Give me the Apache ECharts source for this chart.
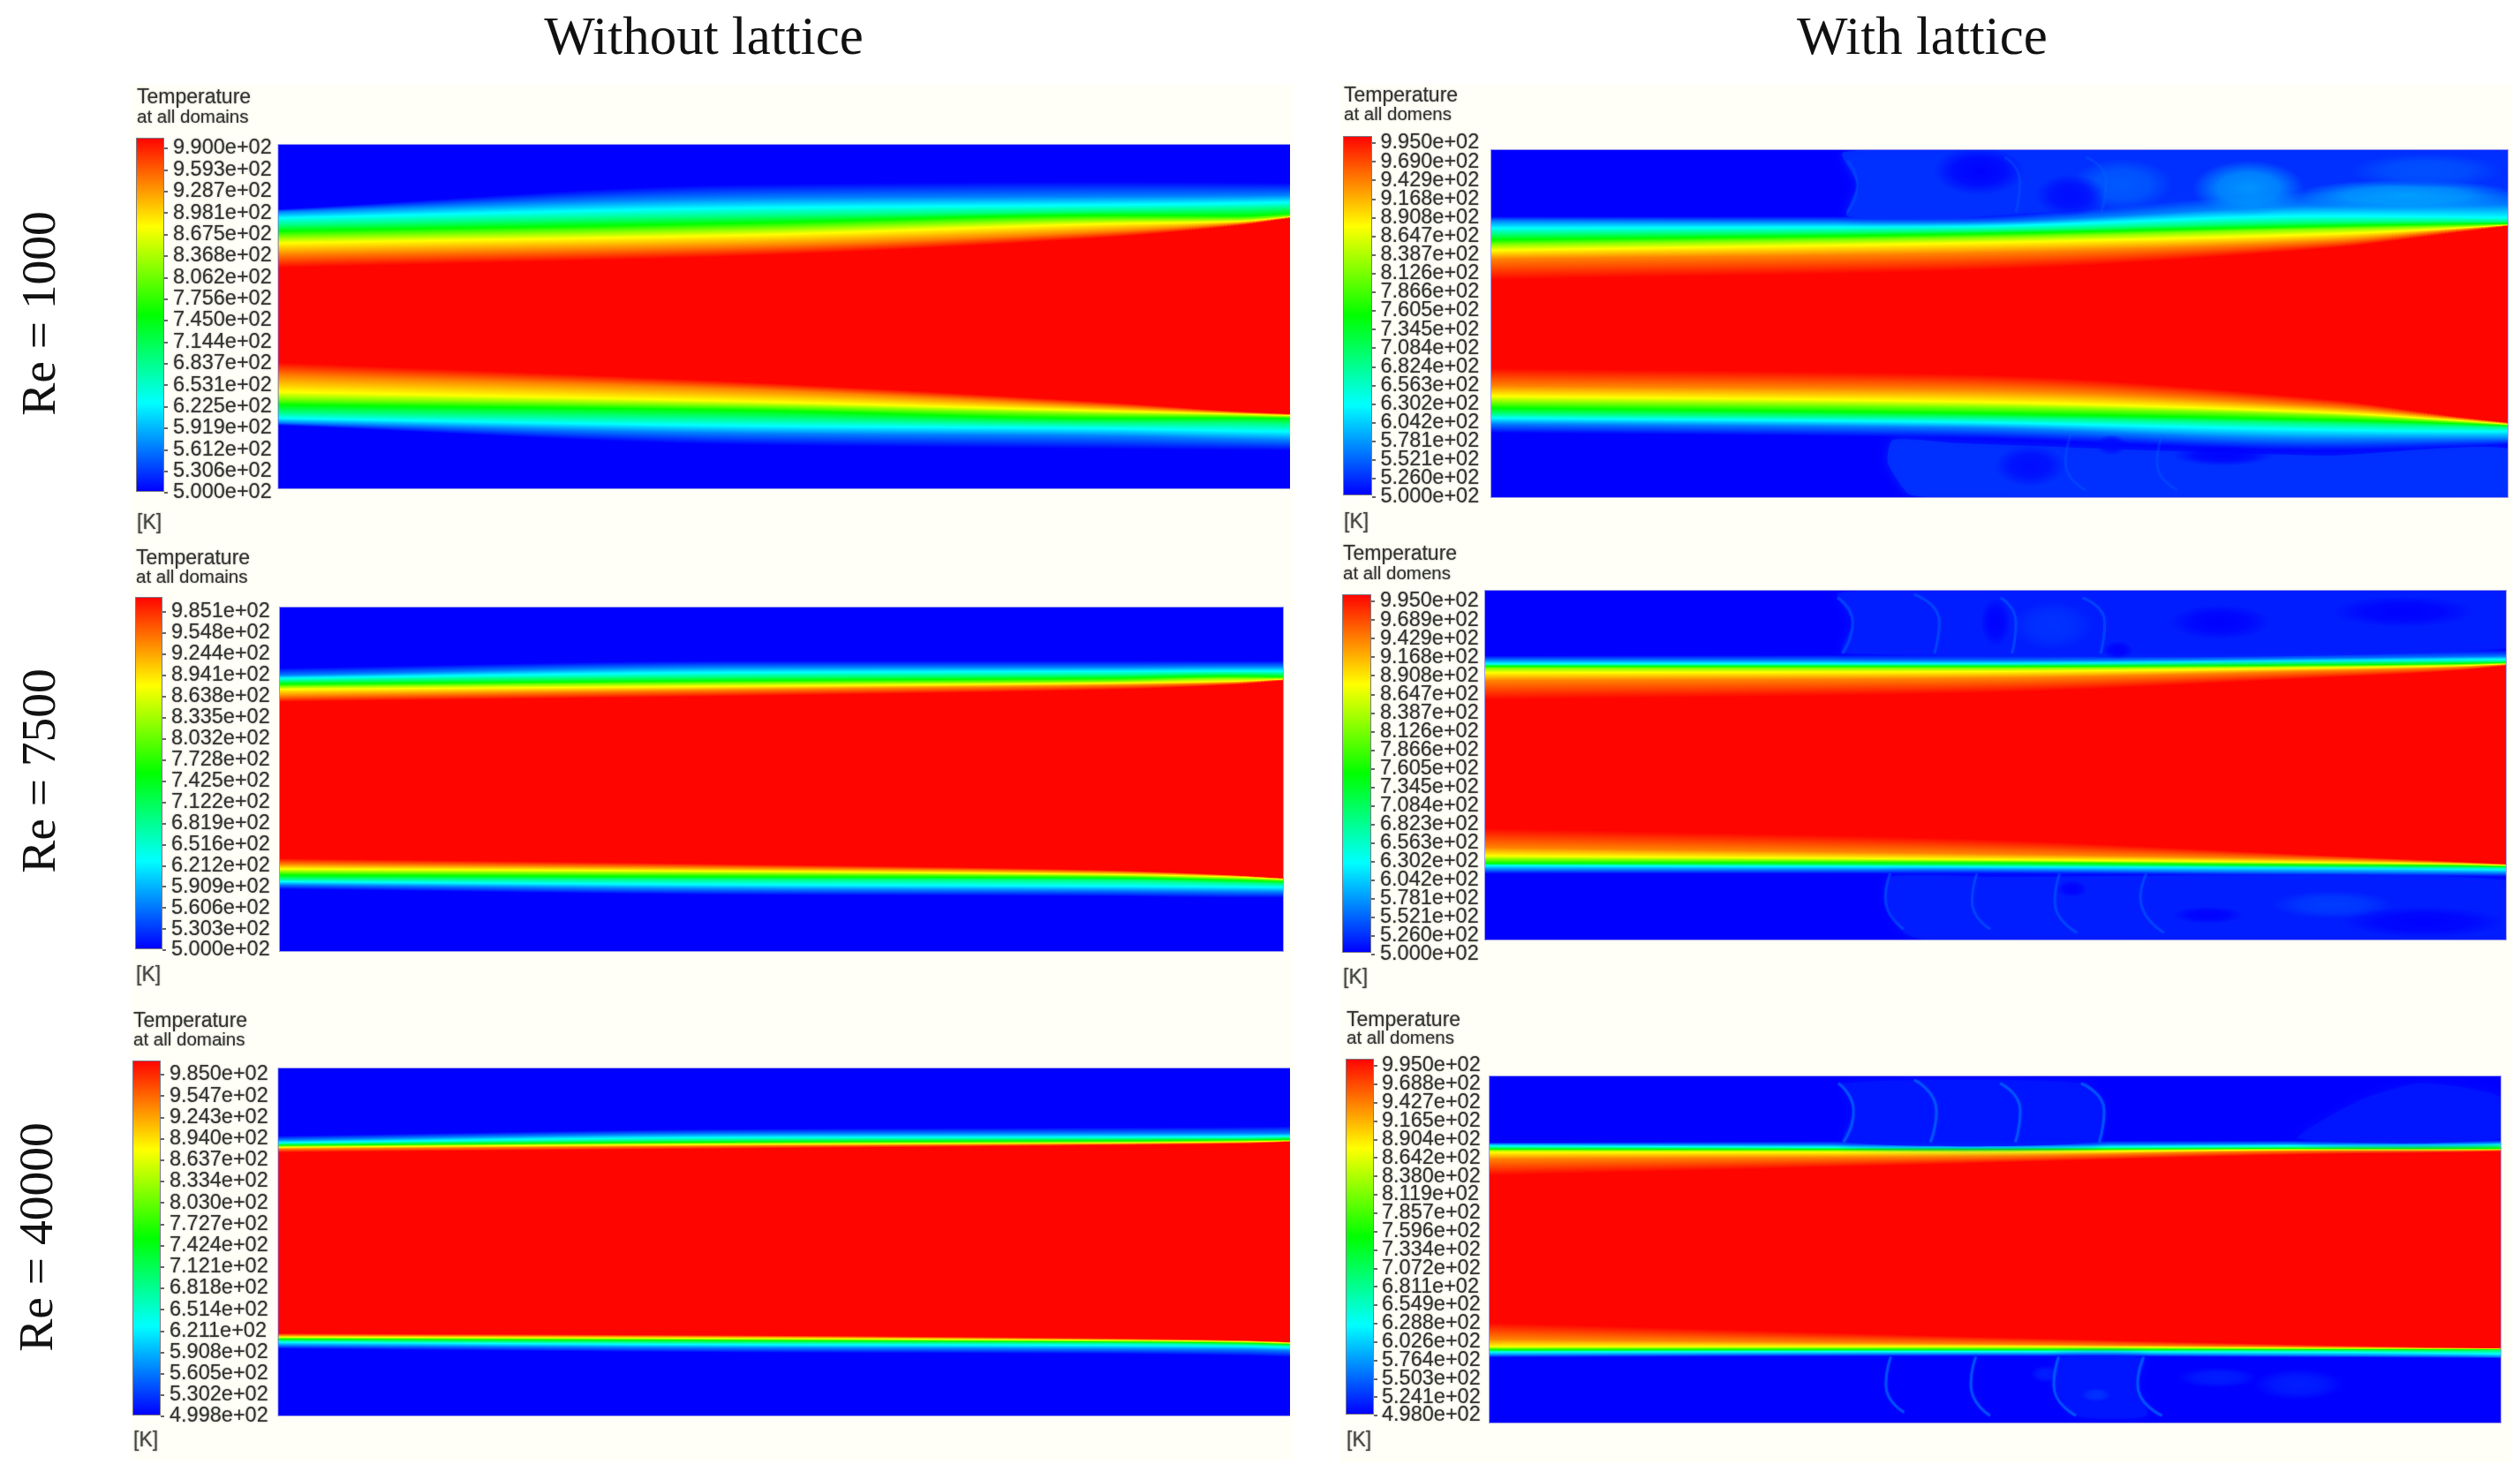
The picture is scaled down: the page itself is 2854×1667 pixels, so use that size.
<!DOCTYPE html>
<html><head><meta charset="utf-8">
<style>html,body{margin:0;padding:0;background:#fff}#c{width:2854px;height:1667px}</style>
<script src="https://cdn.jsdelivr.net/npm/echarts@6/dist/echarts.min.js"></script>
</head><body><div id="c"></div>
<script>
// ---------- text ----------
const columnTitles = ['Without lattice', 'With lattice'];
const rowTitles = ['Re = 1000', 'Re = 7500', 'Re = 40000'];

// ---------- colour bar tick labels (top to bottom) ----------
const ticksA = ['9.900e+02','9.593e+02','9.287e+02','8.981e+02','8.675e+02','8.368e+02','8.062e+02','7.756e+02','7.450e+02','7.144e+02','6.837e+02','6.531e+02','6.225e+02','5.919e+02','5.612e+02','5.306e+02','5.000e+02'];
const ticksB = ['9.950e+02','9.690e+02','9.429e+02','9.168e+02','8.908e+02','8.647e+02','8.387e+02','8.126e+02','7.866e+02','7.605e+02','7.345e+02','7.084e+02','6.824e+02','6.563e+02','6.302e+02','6.042e+02','5.781e+02','5.521e+02','5.260e+02','5.000e+02'];
const ticksC = ['9.851e+02','9.548e+02','9.244e+02','8.941e+02','8.638e+02','8.335e+02','8.032e+02','7.728e+02','7.425e+02','7.122e+02','6.819e+02','6.516e+02','6.212e+02','5.909e+02','5.606e+02','5.303e+02','5.000e+02'];
const ticksD = ['9.950e+02','9.689e+02','9.429e+02','9.168e+02','8.908e+02','8.647e+02','8.387e+02','8.126e+02','7.866e+02','7.605e+02','7.345e+02','7.084e+02','6.823e+02','6.563e+02','6.302e+02','6.042e+02','5.781e+02','5.521e+02','5.260e+02','5.000e+02'];
const ticksE = ['9.850e+02','9.547e+02','9.243e+02','8.940e+02','8.637e+02','8.334e+02','8.030e+02','7.727e+02','7.424e+02','7.121e+02','6.818e+02','6.514e+02','6.211e+02','5.908e+02','5.605e+02','5.302e+02','4.998e+02'];
const ticksF = ['9.950e+02','9.688e+02','9.427e+02','9.165e+02','8.904e+02','8.642e+02','8.380e+02','8.119e+02','7.857e+02','7.596e+02','7.334e+02','7.072e+02','6.811e+02','6.549e+02','6.288e+02','6.026e+02','5.764e+02','5.503e+02','5.241e+02','4.980e+02'];

// ---------- isotherms ----------
// x = fraction of the channel length; y = % of channel height from its top.
const stations = [0, 0.46, 0.82, 0.95, 1];
// colormap fraction of each isotherm column
const coldToHot = [0, 0.125, 0.25, 0.375, 0.5, 0.625, 0.75, 0.875, 1];
// upper shear layer: each row is a station, columns go cold -> hot
const upperA = [[18.7,19.5,21.3,23.4,25.1,26.8,28.6,32,35.8],[11.5,15.5,18.4,20.8,22.8,24.5,26.3,29.5,32.4],[10.7,15,17.5,19.3,20.5,21.8,23,25.3,27],[10.9,14.8,17,18.8,20.7,21.6,22.3,22.9,23.5],[11.1,14.6,16.7,18.4,20.1,20.7,21,21.2,21.4]];
const upperB = [[19.1,20.4,22.5,24.2,25.9,27.2,28.9,31.4,37.4],[19,20.7,22,23.3,24.2,25.3,26.8,29.8,34.8],[8,16,19,20.8,21.9,22.7,24.2,26.3,28.4],[8,15.8,19.3,20.6,21.3,21.9,22.5,23,23.8],[8.5,15.8,19.5,20.6,21.2,21.4,21.6,21.7,21.9]];
const upperC = [[17.6,19.7,20.6,21.4,22.3,23,23.8,25.8,27.5],[15.5,17.4,18.9,20.2,21.3,22,22.9,24,25.8],[15.5,17.4,18.6,19.7,20.6,21.5,22,22.7,24],[15.5,17.2,18.5,19.2,20,20.6,21.5,21.9,22.5],[15.5,17.2,18.5,19.3,20.2,20.6,20.9,21,21.3]];
const upperD = [[18.6,19.9,21,21.3,21.7,22.2,23.5,25.8,31.3],[18.3,20,20.9,21.3,21.7,22.2,23.2,25.2,29.5],[17.3,19.2,20,20.7,21.3,21.6,22.1,23,25],[17,18.9,19.7,20.4,20.9,21.2,21.5,22,23],[17,18.8,19.6,20.3,20.6,20.8,21,21.2,21.5]];
const upperE = [[19.4,20.6,21.4,21.8,22.2,22.4,22.7,23.2,24.2],[17.4,18.8,19.9,20.6,21.2,21.5,21.9,22.3,23.1],[17,18.7,19.8,20.3,20.8,21.2,21.5,21.7,22.2],[16.8,18.7,19.7,20.2,20.6,20.9,21.1,21.4,21.7],[16.6,18.7,19.5,20,20.5,20.7,20.9,21,21.2]];
const upperF = [[19.1,19.5,20.1,20.6,21,21.3,21.9,23.9,28.7],[18.6,19.8,20.5,20.8,21.1,21.4,21.9,23.2,25.3],[18.5,19.4,20,20.5,20.8,21,21.2,21.5,22.5],[18.4,19.2,19.8,20.3,20.8,21,21.2,21.4,22],[18.3,19.1,19.6,20.1,20.8,21,21.2,21.3,21.7]];
// lower shear layer: each row is a station, columns go hot -> cold
const lowerA = [[63.3,67.2,71.9,74,75.7,77.9,79.6,80.9,81.7],[69,71.2,74.7,76,77.3,79.5,81.8,84,87.4],[74.9,76.2,77.5,78.4,79.6,81,82.6,84.8,88.6],[77.6,78,78.4,78.9,79.5,81,83.3,85.7,88.9],[78.3,78.5,78.8,79.2,79.6,81.3,83.5,86,89]];
const lowerB = [[62.8,67.9,70.9,72.6,74.3,76,77.2,78.9,81.5],[64.5,69,72.5,74,75.8,77,78.4,80,83],[71.7,73.9,75.6,76.4,77.7,78.8,80.6,83.2,86.6],[76.8,77.3,77.9,78.3,78.8,79.5,81,83.2,85.5],[78.5,78.7,79,79.2,79.4,79.9,81,83.2,84.9]];
const lowerC = [[73,74.7,76.1,77,77.9,79,79.8,80.7,82],[74.7,75.8,76.8,77.5,78.4,79.2,80.7,82,83.7],[76.4,77,77.7,78.1,78.7,79.4,81.1,82.4,84.1],[77.9,78.1,78.4,78.9,79.4,80.1,81.3,82.7,84.5],[78.8,78.9,79.1,79.4,79.8,80.4,81.5,82.8,84.5]];
const lowerD = [[68.1,73.6,76,77,78.1,78.5,78.8,79.9,81.2],[71,75.3,77,77.5,78,78.7,79.1,80,81.2],[75.8,77,77.9,78.3,78.7,79.1,79.6,80.9,81.7],[77.6,78,78.3,78.6,78.9,79.3,79.9,81,81.9],[78.3,78.5,78.7,78.9,79.1,79.4,80,81,82]];
const lowerE = [[76.3,76.9,77.4,77.7,78,78.4,78.9,79.8,80.8],[76.9,77.3,77.8,78.1,78.4,78.9,79.6,80.5,81.9],[77.7,78.1,78.3,78.6,78.8,79.1,79.8,80.8,82.3],[78.3,78.5,78.7,78.9,79.1,79.5,80,81,82.8],[78.8,78.9,79.1,79.3,79.5,79.8,80.4,81.3,83.2]];
const lowerF = [[71.1,75.9,78.1,78.5,79,79.3,79.6,80.5,81.2],[75,77.2,78,78.5,78.9,79.2,79.5,80.2,80.9],[77.6,78.2,78.5,78.7,78.9,79.2,79.7,80.6,81.2],[78.3,78.5,78.6,78.8,78.9,79.3,80,80.8,81.4],[78.5,78.6,78.7,78.8,78.9,79.2,80.2,81,81.5]];

// ---------- lattice wakes (only "with lattice" panels) ----------
// warmed regions of the cold stream: colormap fraction and outline [x fraction, y %]
const wakeTemp = {B:0.05, D:0.03, F:0.022};
const wakesB = [[[0.345,1],[0.36,10],[0.35,19],[0.46,19.5],[0.82,12],[1,12],[1,0],[0.37,0]],[[0.395,83.5],[0.39,90],[0.41,99],[0.43,100],[1,100],[1,86],[0.82,88],[0.46,84.5]]];
const wakesD = [[[0.345,1],[0.36,9],[0.35,18],[1,16.5],[1,0],[0.37,0]],[[0.397,82],[0.392,89],[0.41,98],[0.43,100],[1,100],[1,83],[0.5,82]]];
const wakesF = [[[0.35,2],[0.36,10],[0.35,19],[0.6,19],[0.608,10],[0.59,2]],[[0.8,18],[0.86,7],[0.92,2],[1,6],[1,18]],[[0.563,81.5],[0.558,89],[0.58,98],[0.65,98],[0.641,89],[0.647,81.5]]];
// soft patches: [x fraction, y %, x extent, y extent, colormap fraction]
const patchesB = [[0.745,11,0.11,16,0.15],[0.62,10,0.1,15,0.09],[0.9,13,0.22,9,0.16],[0.92,6,0.15,10,0.08],[0.48,6,0.09,14,0],[0.57,13,0.07,12,0.01],[0.72,88,0.1,6,0],[0.61,85,0.03,6,0.01],[0.53,91,0.07,12,0.01]];
const patchesD = [[0.556,10,0.08,14,0.05],[0.62,17,0.03,5,0],[0.5,9,0.03,14,0],[0.72,9,0.1,10,0],[0.9,6,0.14,9,0],[0.83,90,0.12,8,0.06],[0.708,93,0.07,5,0],[0.575,85.5,0.03,5,0],[0.92,95,0.16,9,0]];
const patchesF = [[0.72,87,0.08,6,0.03],[0.8,89,0.09,9,0.03],[0.6,92,0.03,4,0.05],[0.55,86,0.03,5,0.03]];
// thin wake arcs: lists of [x fraction, y %]
const arcsB = [[[0.35,18],[0.36,10],[0.35,3]],[[0.516,18],[0.52,9],[0.505,2]],[[0.6,18],[0.605,9],[0.585,2]],[[0.57,82],[0.565,90],[0.585,98]],[[0.66,82],[0.655,90],[0.675,98]]];
const arcsD = [[[0.35,18],[0.36,9],[0.345,2]],[[0.44,18],[0.445,9],[0.42,1]],[[0.516,18],[0.52,9],[0.505,2]],[[0.603,18],[0.607,9],[0.585,2]],[[0.397,81],[0.392,88],[0.41,97]],[[0.482,81],[0.477,89],[0.495,97]],[[0.563,81],[0.558,89],[0.58,98]],[[0.648,81],[0.642,88],[0.665,98]]];
const arcsF = [[[0.35,19],[0.36,10],[0.345,2]],[[0.436,19],[0.442,10],[0.42,1]],[[0.52,19],[0.525,10],[0.505,2]],[[0.603,19],[0.608,10],[0.585,2]],[[0.397,81],[0.392,89],[0.41,97]],[[0.481,81],[0.476,89],[0.495,98]],[[0.563,81],[0.558,89],[0.58,98]],[[0.647,81],[0.641,89],[0.665,98]]];

// ---------- layout (px), separate from the data ----------
const panels = [
 {upper:upperA,lower:lowerA,ticks:ticksA,unitsY:[157,556],tickY:[168,558],barX:[155,185],labelX:197,field:[315.5,1460,164,553],head:[155,111,133],domain:'at all domains',k:593},
 {upper:upperB,lower:lowerB,ticks:ticksB,unitsY:[155,560],tickY:[162,563],barX:[1522,1553],labelX:1564.5,field:[1689,2840,170,563],head:[1522,109,130],domain:'at all domens',k:592,wakes:wakesB,wakeT:wakeTemp.B,patches:patchesB,arcs:arcsB,arcA:0.25},
 {upper:upperC,lower:lowerC,ticks:ticksC,unitsY:[677,1074],tickY:[693,1076],barX:[154,183],labelX:195,field:[317,1453,688,1077],head:[154,633,654],domain:'at all domains',k:1105},
 {upper:upperD,lower:lowerD,ticks:ticksD,unitsY:[674,1078],tickY:[681,1081],barX:[1521,1552],labelX:1564,field:[1682,2838,669,1064],head:[1521,628,650],domain:'at all domens',k:1108,wakes:wakesD,wakeT:wakeTemp.D,patches:patchesD,arcs:arcsD,arcA:0.4},
 {upper:upperE,lower:lowerE,ticks:ticksE,unitsY:[1202,1602],tickY:[1217,1604],barX:[151,181],labelX:193,field:[315.5,1460,1210,1603],head:[151,1157,1178],domain:'at all domains',k:1632},
 {upper:upperF,lower:lowerF,ticks:ticksF,unitsY:[1200,1601],tickY:[1207,1603],barX:[1525,1555],labelX:1566,field:[1687,2832,1219,1611],head:[1525,1156,1176],domain:'at all domens',k:1632,wakes:wakesF,wakeT:wakeTemp.F,patches:patchesF,arcs:arcsF,arcA:0.6}
];

function jet(f, a) {
  const keys = [[0,0,255],[0,255,255],[0,255,0],[255,255,0],[255,5,0]];
  const p = Math.max(0, Math.min(0.9999, f)) * 4, i = Math.floor(p), t = p - i;
  const c = keys[i].map((v, k) => Math.round(v + (keys[i + 1][k] - v) * t));
  return a === undefined ? `rgb(${c})` : `rgba(${c},${a})`;
}

// monotone tangents for shading between the read stations
function tangents(col) {
  const n = col.length, d = [], m = [];
  for (let i = 0; i < n - 1; i++) d.push((col[i+1] - col[i]) / (stations[i+1] - stations[i]));
  m[0] = d[0]; m[n-1] = d[n-2];
  for (let i = 1; i < n - 1; i++) m[i] = d[i-1] * d[i] <= 0 ? 0 : 2 * d[i-1] * d[i] / (d[i-1] + d[i]);
  return m;
}

const grid = [], xAxis = [], yAxis = [], series = [], graphic = [];
const sans = 'Liberation Sans', serif = 'Liberation Serif';

graphic.push({type:'rect',z:-5,silent:true,shape:{x:148,y:95,width:1317,height:1559},style:{fill:'#fffff7'}});
graphic.push({type:'rect',z:-5,silent:true,shape:{x:1518,y:95,width:1326,height:1561},style:{fill:'#fffff7'}});

function addGrid(g, x, y) {
  grid.push(g);
  xAxis.push(Object.assign({gridIndex:grid.length-1}, x));
  yAxis.push(Object.assign({gridIndex:grid.length-1}, y));
  return grid.length - 1;
}

panels.forEach(p => {
  const [l, r, t, b] = p.field;
  const fi = addGrid(
    {left:l, top:t, width:r-l, height:b-t, show:true, backgroundColor:'#0000ff', borderColor:'rgba(70,70,225,0.55)', borderWidth:2},
    {type:'value', min:0, max:1, show:false},
    {type:'value', min:0, max:100, inverse:true, show:false});
  const base = {type:'custom', xAxisIndex:fi, yAxisIndex:fi, clip:true, silent:true, animation:false};

  // temperature field: the data are the read stations; between two stations the
  // canvas gradient shades each column from the isotherms
  const rows = stations.map((x, s) => [x].concat(p.upper[s], p.lower[s]));
  const nCols = rows[0].length - 1;
  const cols = [];
  for (let c = 0; c < nCols; c++) cols.push(rows.map(row => row[c + 1]));
  const tans = cols.map(tangents);
  const colours = coldToHot.map(f => jet(f)).concat(coldToHot.slice().reverse().map(f => jet(f)));
  series.push(Object.assign({}, base, {
    name:'temperature field', data:rows, encode:{x:0, y:1},
    renderItem(params, api) {
      const i = params.dataIndex;
      if (i >= rows.length - 1) return {type:'group', children:[]};
      const x0 = rows[i][0], x1 = rows[i+1][0], h = x1 - x0;
      const pa = api.coord([x0, 0]), pb = api.coord([x1, 100]);
      const step = 4, children = [];
      for (let px = pa[0]; px < pb[0]; px += step) {
        const u = (px + step / 2 - pa[0]) / (pb[0] - pa[0]);
        const h00 = (1 + 2*u)*(1-u)*(1-u), h10 = u*(1-u)*(1-u), h01 = u*u*(3-2*u), h11 = u*u*(u-1);
        let last = 0;
        const colorStops = cols.map((c, k) => {
          const v = h00*c[i] + h10*h*tans[k][i] + h01*c[i+1] + h11*h*tans[k][i+1];
          const o = (api.coord([x0, v])[1] - pa[1]) / (pb[1] - pa[1]);
          last = Math.max(last, Math.min(1, o));
          return {offset:last, color:colours[k]};
        });
        children.push({type:'rect', shape:{x:px, y:pa[1], width:step + 1, height:pb[1] - pa[1]},
          style:{fill:{type:'linear', x:0, y:0, x2:0, y2:1, colorStops}}});
      }
      return {type:'group', children};
    }
  }));

  if (p.wakes) {
    p.wakes.forEach((w, n) => series.push(Object.assign({}, base, {
      name:'wake ' + n, data:w, encode:{x:0, y:1},
      renderItem(params, api) {
        if (params.dataIndex) return {type:'group', children:[]};
        const col = jet(p.wakeT, 0.85);
        return {type:'polygon', shape:{points:w.map(q => api.coord(q)), smooth:0.2},
          style:{fill:col, shadowBlur:12, shadowColor:col}};
      }
    })));
    series.push(Object.assign({}, base, {
      name:'wake patches', data:p.patches, encode:{x:0, y:1},
      renderItem(params, api) {
        const c = api.coord([api.value(0), api.value(1)]);
        const s = api.size([api.value(2), api.value(3)]);
        const f = api.value(4), R = 100;
        return {type:'circle', x:c[0], y:c[1], scaleX:s[0] / 2 / R, scaleY:s[1] / 2 / R, shape:{cx:0, cy:0, r:R},
          style:{fill:{type:'radial', x:0.5, y:0.5, r:0.5, colorStops:[
            {offset:0, color:jet(f, 0.95)}, {offset:0.55, color:jet(f, 0.75)}, {offset:1, color:jet(f, 0)}]}}};
      }
    }));
    p.arcs.forEach((a, n) => {
      const col = `rgba(0,110,255,${p.arcA})`;
      series.push({name:'wake arc ' + n, type:'line', xAxisIndex:fi, yAxisIndex:fi, data:a, smooth:0.6, showSymbol:false, silent:true,
        animation:false, lineStyle:{width:3, color:col, shadowBlur:3, shadowColor:col}});
    });
  }

  // colour bar
  const n = p.ticks.length;
  const tmax = parseFloat(p.ticks[0]), tmin = parseFloat(p.ticks[n-1]);
  const bi = addGrid(
    {left:p.barX[0], top:p.unitsY[0], width:p.barX[1]-p.barX[0], height:p.unitsY[1]-p.unitsY[0], show:true, borderColor:'#7a7a86', borderWidth:2},
    {type:'value', min:0, max:1, show:false},
    {type:'value', min:tmin, max:tmax, show:false});
  series.push({
    name:'colour bar', type:'line', xAxisIndex:bi, yAxisIndex:bi, data:[[0,tmax],[1,tmax]], showSymbol:false, silent:true, animation:false,
    lineStyle:{width:0},
    areaStyle:{origin:'start', opacity:1, color:{type:'linear',x:0,y:0,x2:0,y2:1,colorStops:[
      {offset:0,color:'#ff0500'},{offset:0.25,color:'#ffff00'},{offset:0.5,color:'#00ff00'},{offset:0.75,color:'#00ffff'},{offset:1,color:'#0000ff'}]}}
  });
  // tick labels
  addGrid(
    {left:p.barX[1], top:p.tickY[0], width:1, height:p.tickY[1]-p.tickY[0], show:false},
    {type:'value', min:0, max:1, show:false},
    {type:'category', data:p.ticks, inverse:true, boundaryGap:false, position:'right', offset:-1,
     axisLine:{show:false}, axisTick:{show:true, length:4, lineStyle:{color:'#666', width:2}},
     axisLabel:{show:true, interval:0, margin:p.labelX-p.barX[1]-1, fontFamily:sans, fontSize:23.5, color:'#333', align:'left', hideOverlap:false,
       textShadowColor:'rgba(60,60,60,0.6)', textShadowBlur:2}});

  const txt = (x, y, s, fs, col) => ({type:'text', z:50, silent:true, x, y, style:{text:s, fontFamily:sans, fontSize:fs, fill:col, textAlign:'left', textVerticalAlign:'middle', textShadowColor:'rgba(60,60,60,0.6)', textShadowBlur:2}});
  graphic.push(txt(p.head[0], p.head[1], 'Temperature', 23, '#333'));
  graphic.push(txt(p.head[0], p.head[2], p.domain, 20.5, '#333'));
  graphic.push(txt(p.head[0], p.k, '[K]', 23, '#444'));
});

// column and row titles
[[797,45],[2177,45]].forEach((q, i) => graphic.push({type:'text', z:50, silent:true, x:q[0], y:q[1],
  style:{text:columnTitles[i], fontFamily:serif, fontSize:61, fill:'#111', textAlign:'center', textVerticalAlign:'middle'}}));
[[47,355],[47,873],[44,1401]].forEach((q, i) => graphic.push({type:'text', z:50, silent:true, x:q[0], y:q[1], rotation:Math.PI/2,
  style:{text:rowTitles[i], fontFamily:serif, fontSize:55.5, fill:'#111', textAlign:'center', textVerticalAlign:'middle'}}));

const chart = echarts.init(document.getElementById('c'), null, {renderer:'canvas', width:2854, height:1667});
chart.setOption({backgroundColor:'#ffffff', animation:false, tooltip:{show:false}, legend:{show:false}, grid, xAxis, yAxis, series, graphic});
</script></body></html>
